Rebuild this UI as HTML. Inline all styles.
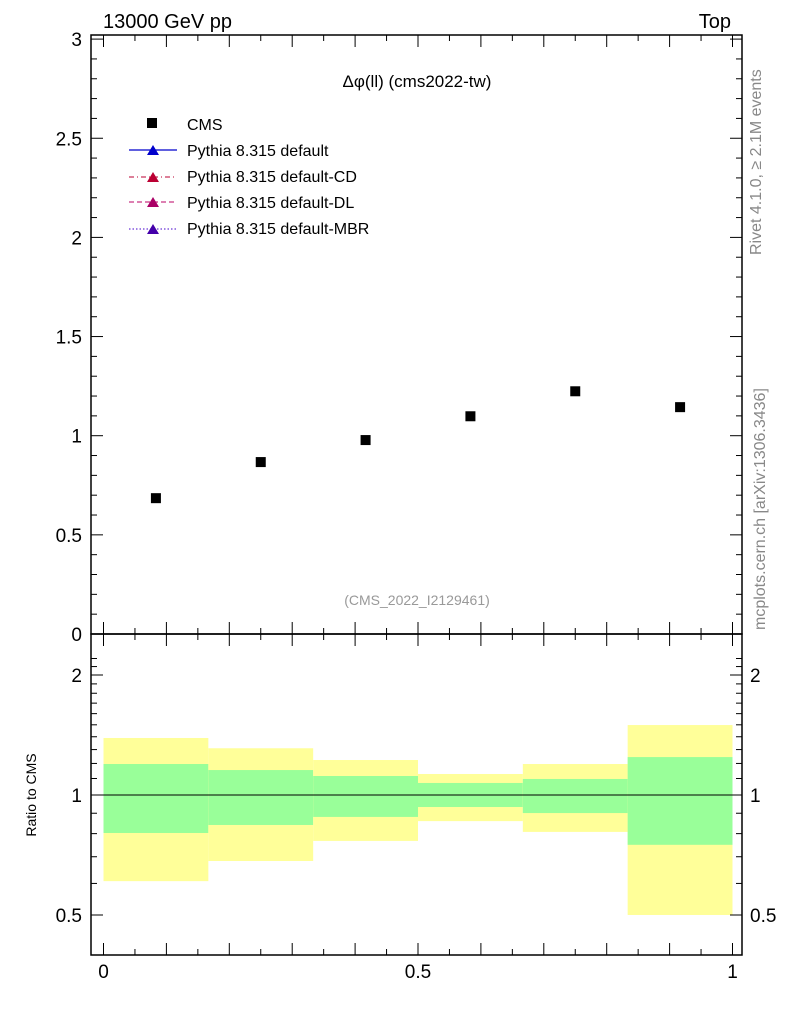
<!DOCTYPE html>
<html><head><meta charset="utf-8"><style>
body{margin:0;background:#fff}
svg{display:block;font-family:"Liberation Sans",sans-serif}
</style></head><body>
<svg id="c" width="786" height="1024" viewBox="0 0 786 1024">
<g id="bands"></g>
<g id="axes"></g>
<g id="pts"></g>
<text x="103" y="28" font-size="20">13000 GeV pp</text>
<text x="731" y="28" font-size="20" text-anchor="end">Top</text>
<text x="417" y="87" font-size="17" text-anchor="middle">Δφ(ll) (cms2022-tw)</text>
<text x="417" y="605" font-size="14" fill="#999" text-anchor="middle">(CMS_2022_I2129461)</text>
<text transform="translate(761,255) rotate(-90)" font-size="16" fill="#888">Rivet 4.1.0, ≥ 2.1M events</text>
<text transform="translate(765,630) rotate(-90)" font-size="16" fill="#888">mcplots.cern.ch [arXiv:1306.3436]</text>
<text transform="translate(36,795) rotate(-90)" font-size="14" text-anchor="middle">Ratio to CMS</text>
<g>
<rect x="147" y="118" width="10" height="10" fill="#000"/>
<text x="187" y="130" font-size="16">CMS</text>
<line x1="129" y1="150" x2="177" y2="150" stroke="#00c" stroke-width="1.3"/>
<polygon points="147,155 153,145 159,155" fill="#00c"/>
<text x="187" y="156" font-size="16">Pythia 8.315 default</text>
<line x1="129" y1="177" x2="177" y2="177" stroke="#b03" stroke-dasharray="5,3,1,3"/>
<polygon points="147,182 153,172 159,182" fill="#b03"/>
<text x="187" y="182" font-size="16">Pythia 8.315 default-CD</text>
<line x1="129" y1="202" x2="177" y2="202" stroke="#b06" stroke-dasharray="5,3"/>
<polygon points="147,207 153,197 159,207" fill="#a06"/>
<text x="187" y="208" font-size="16">Pythia 8.315 default-DL</text>
<line x1="129" y1="229" x2="177" y2="229" stroke="#40c" stroke-dasharray="1.5,2"/>
<polygon points="147,234 153,224 159,234" fill="#40a"/>
<text x="187" y="234" font-size="16">Pythia 8.315 default-MBR</text>
</g>
</svg>
<script>
const binEdges=[0,1/6,2/6,3/6,4/6,5/6,1];
const cmsValues=[0.685,0.867,0.978,1.098,1.224,1.144];
const totUp=[1.39,1.31,1.224,1.129,1.196,1.498];
const totDn=[0.608,0.683,0.767,0.86,0.808,0.5];
const statUp=[1.196,1.155,1.116,1.072,1.097,1.245];
const statDn=[0.803,0.841,0.881,0.933,0.901,0.75];
const mainTicks=["0","0.5","1","1.5","2","2.5","3"];
const ratioTicks=[0.5,1,2];
const xTicks=["0","0.5","1"];
const NS="http://www.w3.org/2000/svg";
const X=v=>103.5+v*629;
const Y=v=>634-v*198.3;
const R=v=>795-398.6*Math.log10(v);
function mk(p,t,a){const e=document.createElementNS(NS,t);for(const k in a)e.setAttribute(k,a[k]);p.appendChild(e);return e;}
const bands=document.getElementById('bands'),axes=document.getElementById('axes'),pts=document.getElementById('pts');
for(let i=0;i<6;i++){
 const x0=X(binEdges[i]),x1=X(binEdges[i+1]);
 let r=mk(bands,'rect',{x:x0,y:R(totUp[i]),width:x1-x0,height:R(totDn[i])-R(totUp[i]),fill:'#ffff99'});
 
 
 r=mk(bands,'rect',{x:x0,y:R(statUp[i]),width:x1-x0,height:R(statDn[i])-R(statUp[i]),fill:'#99ff99'});
 
 
 const xc=(binEdges[i]+binEdges[i+1])/2;
 const p=mk(pts,'rect',{x:X(xc)-5,y:Y(cmsValues[i])-5,width:10,height:10,fill:'#000'});
 
 
}
mk(axes,'line',{x1:91,x2:742,y1:R(1),y2:R(1),stroke:'#000','stroke-width':1});
mk(axes,'rect',{x:91,y:35,width:651,height:599,fill:'none',stroke:'#000','stroke-width':1.5});
mk(axes,'rect',{x:91,y:634,width:651,height:321,fill:'none',stroke:'#000','stroke-width':1.5});
for(let k=0;k<=30;k++){const v=k/10,y=Y(v),L=k%5==0?12:6;
 mk(axes,'line',{x1:91,x2:91+L,y1:y,y2:y,stroke:'#000'});mk(axes,'line',{x1:742,x2:742-L,y1:y,y2:y,stroke:'#000'});}
mainTicks.forEach(s=>{const t=mk(axes,'text',{x:82,y:Y(+s)+7,'font-size':19,'text-anchor':'end'});t.textContent=s;
 
 });
for(let k=5;k<=22;k++){const v=k/10,y=R(v),L=(k==5||k==10||k==20)?12:6;
 mk(axes,'line',{x1:91,x2:91+L,y1:y,y2:y,stroke:'#000'});mk(axes,'line',{x1:742,x2:742-L,y1:y,y2:y,stroke:'#000'});}
ratioTicks.forEach(v=>{let t=mk(axes,'text',{x:82,y:R(v)+7,'font-size':19,'text-anchor':'end'});t.textContent=v;
 
 
 t=mk(axes,'text',{x:750,y:R(v)+7,'font-size':19});t.textContent=v;
 
 });
for(let k=0;k<=20;k++){const x=X(k/20),L=k%2==0?12:6;
 [35,634].forEach(y0=>mk(axes,'line',{x1:x,x2:x,y1:y0,y2:y0+L,stroke:'#000'}));
 [634,955].forEach(y0=>mk(axes,'line',{x1:x,x2:x,y1:y0,y2:y0-L,stroke:'#000'}));}
xTicks.forEach(s=>{const t=mk(axes,'text',{x:X(+s),y:978,'font-size':19,'text-anchor':'middle'});t.textContent=s;
 
 });
</script>
</body></html>
